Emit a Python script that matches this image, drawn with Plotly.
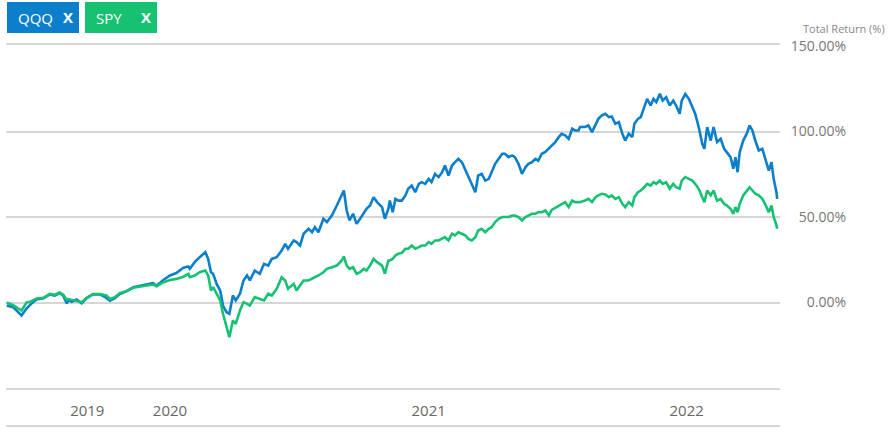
import plotly.graph_objects as go

dates = [
"2019-05-15","2019-05-24","2019-06-05","2019-06-12","2019-06-19","2019-06-26","2019-07-06","2019-07-15","2019-07-22","2019-07-29",
"2019-08-03","2019-08-08","2019-08-10","2019-08-15","2019-08-22","2019-08-29","2019-09-05","2019-09-14","2019-09-24","2019-10-03",
"2019-10-08","2019-10-15","2019-10-22","2019-11-01","2019-11-10","2019-11-20","2019-11-29","2019-12-08","2019-12-13","2019-12-23",
"2020-01-01","2020-01-10","2020-01-20","2020-01-27","2020-01-29","2020-02-05","2020-02-12","2020-02-20","2020-02-24","2020-02-28",
"2020-03-02","2020-03-07","2020-03-12","2020-03-16","2020-03-21","2020-03-25","2020-03-30","2020-04-03","2020-04-09","2020-04-14",
"2020-04-19","2020-04-23","2020-04-30","2020-05-07","2020-05-13","2020-05-19","2020-05-24","2020-05-31","2020-06-07","2020-06-12",
"2020-06-16","2020-06-24","2020-06-28","2020-07-03","2020-07-08","2020-07-15","2020-07-20","2020-07-24","2020-07-29","2020-08-05",
"2020-08-10","2020-08-17","2020-08-24","2020-08-31","2020-09-03","2020-09-07","2020-09-11","2020-09-16","2020-09-21","2020-09-26",
"2020-10-01","2020-10-05","2020-10-10","2020-10-15","2020-10-20","2020-10-27","2020-10-31","2020-11-05","2020-11-07","2020-11-11",
"2020-11-15","2020-11-19","2020-11-24","2020-11-29","2020-12-03","2020-12-08","2020-12-13","2020-12-18","2020-12-22","2020-12-27",
"2021-01-01","2021-01-05","2021-01-10","2021-01-15","2021-01-20","2021-01-24","2021-01-29","2021-02-03","2021-02-07","2021-02-12",
"2021-02-17","2021-02-22","2021-02-26","2021-03-03","2021-03-08","2021-03-12","2021-03-17","2021-03-22","2021-03-27","2021-03-31",
"2021-04-05","2021-04-10","2021-04-15","2021-04-19","2021-04-24","2021-04-29","2021-05-03","2021-05-08","2021-05-13","2021-05-18",
"2021-05-22","2021-05-27","2021-06-01","2021-06-05","2021-06-10","2021-06-15","2021-06-20","2021-06-24","2021-06-29","2021-07-04",
"2021-07-08","2021-07-13","2021-07-18","2021-07-23","2021-07-27","2021-08-01","2021-08-03","2021-08-10","2021-08-15","2021-08-20",
"2021-08-25","2021-08-29","2021-09-03","2021-09-08","2021-09-13","2021-09-17","2021-09-22","2021-09-27","2021-10-02","2021-10-06",
"2021-10-11","2021-10-16","2021-10-19","2021-10-24","2021-10-28","2021-11-02","2021-11-06","2021-11-11","2021-11-15","2021-11-19",
"2021-11-24","2021-11-28","2021-12-03","2021-12-08","2021-12-13","2021-12-17","2021-12-22","2021-12-25","2021-12-30","2022-01-04",
"2022-01-09","2022-01-13","2022-01-18","2022-01-23","2022-01-26","2022-01-30","2022-02-04","2022-02-08","2022-02-13","2022-02-18",
"2022-02-23","2022-02-27","2022-03-04","2022-03-08","2022-03-11","2022-03-14","2022-03-17","2022-03-22","2022-03-27","2022-03-31",
"2022-04-04","2022-04-08","2022-04-13","2022-04-18","2022-04-23","2022-04-27","2022-05-01","2022-05-04","2022-05-08","2022-05-09",
]

qqq = [
-1.8,-2.7,-7.6,-3.5,-0.6,1.8,2.5,4.7,4.0,5.5,
4.0,-0.5,1.4,0.4,1.8,-0.4,2.5,4.7,4.7,2.7,
1.0,2.5,5.0,6.6,9.0,9.8,10.9,11.3,9.8,13.3,
15.8,17.2,20.3,21.0,19.7,23.6,26.5,29.4,25.5,17.7,
16.8,10.9,7.0,-1.8,-5.7,-6.6,4.1,1.2,5.1,12.9,
15.8,12.9,18.7,16.8,22.6,21.6,25.5,26.5,30.4,34.3,
31.4,36.3,35.3,33.3,40.2,43.1,41.1,44.0,41.1,49.0,
47.0,50.9,56.7,62.6,65.5,53.8,48.0,51.9,46.0,49.0,
51.9,54.8,56.7,61.6,58.7,55.8,49.0,54.8,59.6,52.8,
60.6,59.6,59.6,62.6,66.5,68.4,64.5,69.4,70.4,69.4,
72.3,70.4,75.2,73.3,76.2,80.1,74.3,80.1,82.0,84.0,
82.0,77.2,74.3,68.4,64.5,74.3,75.2,71.3,72.3,76.2,
81.1,84.0,87.0,87.0,85.0,86.0,85.0,81.1,75.2,79.1,
81.1,82.0,84.0,83.0,87.0,88.0,90.0,91.8,93.8,96.7,
98.6,97.7,95.7,101.6,100.6,100.6,102.6,102.6,103.5,99.6,
104.5,107.4,109.4,110.4,108.4,108.8,104.5,105.5,98.7,94.7,
98.7,96.7,104.5,107.4,108.4,114.2,119.1,115.2,119.1,117.2,
122.0,118.1,120.0,115.2,118.1,115.2,110.4,118.1,122.0,119.1,
114.2,110.4,102.6,92.8,89.9,102.6,94.7,102.6,93.8,95.7,
89.9,88.0,85.0,78.2,85.0,76.2,88.0,94.7,98.7,103.5,
100.6,94.7,88.9,89.9,83.0,77.2,82.0,72.3,64.5,60.6,
]

spy = [
0.0,-1.6,-4.7,0.0,0.8,2.3,2.7,5.0,4.5,5.8,
4.5,1.5,2.0,1.6,1.2,0.2,2.7,5.0,5.0,4.1,
2.1,3.1,5.4,6.8,8.6,9.4,9.9,10.5,9.5,11.9,
13.2,13.8,15.1,16.8,14.8,15.8,17.7,18.7,15.8,7.0,
9.0,5.1,1.2,-6.6,-14.4,-20.3,-10.5,-12.5,-4.7,0.2,
-0.8,-1.8,3.1,2.1,1.2,5.1,4.1,8.0,14.8,12.9,
8.0,10.9,7.0,9.9,12.9,12.9,13.8,14.8,15.8,17.7,
19.7,20.6,21.6,24.6,26.9,21.6,19.7,20.6,16.8,17.7,
19.7,18.7,21.6,25.5,23.6,21.6,16.8,24.6,24.6,25.5,
27.5,28.5,29.0,31.4,31.4,33.3,31.4,32.4,33.3,33.3,
35.3,34.3,36.3,36.3,37.2,38.2,36.3,40.2,39.2,41.1,
40.2,39.2,37.2,36.3,38.2,42.1,43.1,41.1,43.1,44.0,
47.0,49.0,50.0,50.0,50.0,50.9,50.9,50.0,48.0,50.0,
50.9,51.9,51.9,52.8,52.8,53.8,50.9,54.2,55.4,56.7,
57.7,58.7,55.8,59.6,58.7,59.0,58.7,59.6,60.6,58.7,
61.6,62.6,63.6,63.2,61.6,62.6,60.6,61.6,57.7,55.8,
58.7,56.7,61.6,64.5,65.5,67.4,69.4,68.4,70.4,69.4,
71.3,69.4,70.4,66.5,69.4,67.4,66.5,71.3,73.3,72.3,
71.3,69.4,66.5,61.6,58.7,65.5,62.6,65.5,59.6,60.6,
57.7,56.7,54.8,51.9,55.8,52.8,57.7,62.6,65.5,67.4,
65.5,63.6,62.6,60.6,56.7,52.8,56.7,50.0,45.1,43.1,
]

year_tick_dates = ["2019-09-06", "2020-01-01", "2021-01-01", "2022-01-01"]
year_tick_labels = ["2019", "2020", "2021", "2022"]
y_ticks = [0, 50, 100, 150]
y_tick_labels = ["0.00%", "50.00%", "100.00%", "150.00%"]

QQQ_COLOR = "#0b7fca"
SPY_COLOR = "#16c172"
GRID = "#d6d6d6"

W, H = 893, 434
ML, MR, MT, MB = 6, 3, 46, 46
PW = W - ML - MR
PH = H - MT - MB

def px(x):
    return (x - ML) / PW

def py(y):
    return (H - MB - y) / PH

fig = go.Figure()
fig.add_trace(go.Scatter(x=dates, y=qqq, mode="lines", name="QQQ",
                         line=dict(color=QQQ_COLOR, width=2.6)))
fig.add_trace(go.Scatter(x=dates, y=spy, mode="lines", name="SPY",
                         line=dict(color=SPY_COLOR, width=2.6)))
# invisible trace for the right label axis
fig.add_trace(go.Scatter(x=[dates[0]], y=[0], yaxis="y2", mode="markers",
                         marker=dict(opacity=0), showlegend=False, hoverinfo="skip"))

fig.update_layout(
    width=W, height=H,
    margin=dict(l=ML, r=MR, t=MT, b=MB),
    paper_bgcolor="white", plot_bgcolor="white",
    showlegend=False,
    font=dict(family="Open Sans, sans-serif", color="#777"),
    xaxis=dict(
        type="date", domain=[0, px(780)],
        range=["2019-05-14", "2022-05-13"],
        tickvals=year_tick_dates, ticktext=year_tick_labels,
        showgrid=False, zeroline=False,
        showline=True, linecolor=GRID, linewidth=2,
        ticks="outside", ticklen=8, tickcolor="rgba(0,0,0,0)",
        tickfont=dict(family="Open Sans, sans-serif", size=15, color="#666"),
    ),
    yaxis=dict(
        range=[-50, 150], tickvals=y_ticks, showticklabels=False,
        showgrid=True, gridcolor=GRID, gridwidth=2, zeroline=False,
        fixedrange=True,
    ),
    yaxis2=dict(
        range=[-50, 150], tickvals=y_ticks, ticktext=y_tick_labels,
        overlaying="y", side="left", anchor="free", position=px(846),
        showgrid=False, zeroline=False, showline=False, ticks="",
        tickfont=dict(family="Open Sans, sans-serif", size=14, color="#777"),
    ),
)

# top border line (150% level)
fig.add_shape(type="line", xref="paper", yref="paper",
              x0=0, x1=px(780), y0=py(44), y1=py(44),
              line=dict(color=GRID, width=2))
# bottom border line below the year labels
fig.add_shape(type="line", xref="paper", yref="paper",
              x0=0, x1=px(780), y0=py(426), y1=py(426),
              line=dict(color=GRID, width=2))

fig.add_annotation(text="Total Return (%)", xref="paper", yref="paper",
                   x=px(887), y=py(28), xanchor="right", yanchor="middle",
                   showarrow=False, font=dict(size=11, color="#888"))

legend_items = [("QQQ", QQQ_COLOR, 7, 79), ("SPY", SPY_COLOR, 85, 157)]
for name, col, x0, x1 in legend_items:
    fig.add_shape(type="rect", xref="paper", yref="paper",
                  x0=px(x0), x1=px(x1), y0=py(33), y1=py(2),
                  fillcolor=col, line=dict(width=0))
    fig.add_annotation(text=name, xref="paper", yref="paper",
                       x=px(x0 + 9), y=py(18), xanchor="left", yanchor="middle",
                       showarrow=False, font=dict(size=15, color="white"))
    fig.add_annotation(text="<b>X</b>", xref="paper", yref="paper",
                       x=px(x1 - 11), y=py(17), xanchor="center", yanchor="middle",
                       showarrow=False, font=dict(size=15, color="white"))

fig.write_html("out.html", config={"displayModeBar": False},
               post_script="document.body.style.margin='0';")
